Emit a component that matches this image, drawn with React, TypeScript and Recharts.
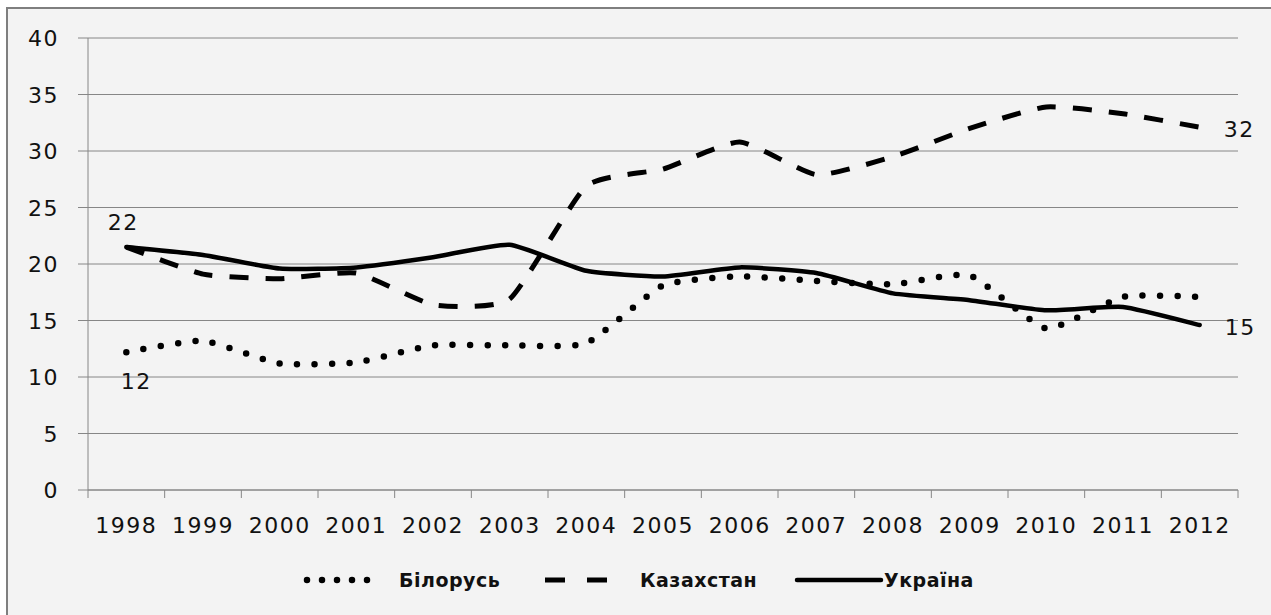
import { LineChart, Line, XAxis, YAxis, CartesianGrid, Legend, LabelList } from 'recharts';

const years = ['1998', '1999', '2000', '2001', '2002', '2003', '2004', '2005', '2006', '2007', '2008', '2009', '2010', '2011', '2012'];
const belarus = [12.2, 13.2, 11.2, 11.3, 12.8, 12.8, 13.0, 18.1, 18.9, 18.5, 18.2, 19.0, 14.3, 17.1, 17.1];
const kazakhstan = [21.5, 19.1, 18.7, 19.2, 16.4, 16.9, 26.9, 28.4, 30.8, 27.9, 29.5, 32.0, 33.9, 33.3, 32.1];
const ukraine = [21.5, 20.8, 19.6, 19.7, 20.6, 21.7, 19.4, 18.9, 19.7, 19.2, 17.4, 16.8, 15.9, 16.2, 14.6];
const yTicks = [0, 5, 10, 15, 20, 25, 30, 35, 40];

const data = years.map((year, i) => ({
  year,
  belarus: belarus[i],
  kazakhstan: kazakhstan[i],
  ukraine: ukraine[i],
}));

const W = 1271;
const H = 615;
const PLOT_LEFT = 88;
const PLOT_RIGHT = 1238;
const PLOT_BOTTOM = 490;
const HALF = (PLOT_RIGHT - PLOT_LEFT) / years.length / 2;

const FONT = '"DejaVu Sans", Verdana, sans-serif';
const INK = '#111';
const GREY = '#868686';

type LabelSpec = { dx: number; dy: number; anchor: 'start' | 'middle' | 'end' };

// light Excel-like smoothing: Catmull-Rom with shortened tangents
const SMOOTH = 1 / 12;
function smoothCurve(context: any) {
  let pts: [number, number][] = [];
  return {
    areaStart() {},
    areaEnd() {},
    lineStart() {
      pts = [];
    },
    lineEnd() {
      if (!pts.length) return;
      context.moveTo(pts[0][0], pts[0][1]);
      for (let i = 0; i < pts.length - 1; i++) {
        const p0 = pts[Math.max(i - 1, 0)];
        const p1 = pts[i];
        const p2 = pts[i + 1];
        const p3 = pts[Math.min(i + 2, pts.length - 1)];
        context.bezierCurveTo(
          p1[0] + (p2[0] - p0[0]) * SMOOTH, p1[1] + (p2[1] - p0[1]) * SMOOTH,
          p2[0] - (p3[0] - p1[0]) * SMOOTH, p2[1] - (p3[1] - p1[1]) * SMOOTH,
          p2[0], p2[1],
        );
      }
    },
    point(x: number, y: number) {
      pts.push([x, y]);
    },
  };
}

const series = [
  {
    key: 'belarus', name: 'Білорусь', dash: '0 17.5', width: 6.5, cap: 'round' as const,
    legendDash: '0 15', labels: { 0: { dx: 10, dy: 37, anchor: 'middle' } } as Record<number, LabelSpec>,
  },
  {
    key: 'kazakhstan', name: 'Казахстан', dash: '19 17', width: 5, cap: 'butt' as const,
    legendDash: '20 22', labels: { 14: { dx: 24, dy: 10, anchor: 'start' } } as Record<number, LabelSpec>,
  },
  {
    key: 'ukraine', name: 'Україна', dash: undefined, width: 4.5, cap: 'round' as const,
    legendDash: undefined,
    labels: {
      0: { dx: -3, dy: -17, anchor: 'middle' },
      14: { dx: 25, dy: 10, anchor: 'start' },
    } as Record<number, LabelSpec>,
  },
];

const legendItems = [
  { x1: 307, x2: 382, tx: 399 },
  { x1: 545, x2: 612, tx: 640 },
  { x1: 797, x2: 881, tx: 884 },
];

function XTick({ x, payload, index }: any) {
  const last = index === years.length - 1;
  return (
    <g>
      <line x1={x - HALF} x2={x - HALF} y1={PLOT_BOTTOM} y2={PLOT_BOTTOM + 8} stroke={GREY} />
      {last && <line x1={x + HALF} x2={x + HALF} y1={PLOT_BOTTOM} y2={PLOT_BOTTOM + 8} stroke={GREY} />}
      <text
        x={x}
        y={PLOT_BOTTOM + 43}
        textAnchor="middle"
        fill={INK}
        fontSize={22}
        fontFamily={FONT}
        style={{ letterSpacing: 1.5 }}
      >
        {payload.value}
      </text>
    </g>
  );
}

function YTick({ y, payload }: any) {
  return (
    <text
      x={PLOT_LEFT - 29}
      y={y + 8}
      textAnchor="end"
      fill={INK}
      fontSize={22}
      fontFamily={FONT}
      style={{ letterSpacing: 1.5 }}
    >
      {payload.value}
    </text>
  );
}

function makeLabel(specs: Record<number, LabelSpec>) {
  return (props: any) => {
    const spec = specs[props.index];
    if (!spec) return null;
    return (
      <text
        x={props.x + spec.dx}
        y={props.y + spec.dy}
        textAnchor={spec.anchor}
        fill={INK}
        fontSize={22}
        fontFamily={FONT}
        style={{ letterSpacing: 1.5 }}
      >
        {Math.round(props.value)}
      </text>
    );
  };
}

function LegendContent() {
  return (
    <svg width={W} height={40} style={{ display: 'block' }}>
      {series.map((s, i) => {
        const pos = legendItems[i];
        return (
          <g key={s.key}>
            <line
              x1={pos.x1}
              x2={pos.x2}
              y1={20}
              y2={20}
              stroke="#000"
              strokeWidth={s.width}
              strokeDasharray={s.legendDash}
              strokeLinecap={s.cap}
            />
            <text
              x={pos.tx}
              y={27}
              fill={INK}
              fontSize={19}
              fontWeight="bold"
              fontFamily={FONT}
              style={{ letterSpacing: 0.5 }}
            >
              {s.name}
            </text>
          </g>
        );
      })}
    </svg>
  );
}

export default function App() {
  return (
    <div style={{ position: 'absolute', left: 0, top: 0, width: W, height: H, background: '#fff', overflow: 'hidden' }}>
      <div
        style={{
          position: 'absolute',
          left: 6,
          top: 7,
          right: 0,
          bottom: 0,
          background: '#f3f3f3',
          borderLeft: '2px solid #7f7f7f',
          borderTop: '2px solid #7f7f7f',
        }}
      />
      <div style={{ position: 'absolute', left: 0, top: 0 }}>
        <LineChart width={W} height={H} data={data} margin={{ top: 38, right: 33, left: 0, bottom: 15 }}>
          <CartesianGrid vertical={false} stroke={GREY} />
          <XAxis
            dataKey="year"
            height={70}
            padding={{ left: HALF, right: HALF }}
            axisLine={{ stroke: GREY }}
            tickLine={false}
            tick={<XTick />}
            interval={0}
          />
          <YAxis
            width={88}
            domain={[0, 40]}
            ticks={yTicks}
            interval={0}
            axisLine={{ stroke: GREY }}
            tickLine={{ stroke: GREY }}
            tickSize={10}
            tick={<YTick />}
          />
          <Legend
            verticalAlign="bottom"
            wrapperStyle={{ left: 0, bottom: 15, width: W, height: 40 }}
            content={<LegendContent />}
          />
          {series.map((s) => (
            <Line
              key={s.key}
              dataKey={s.key}
              name={s.name}
              type={smoothCurve as any}
              stroke="#000"
              strokeWidth={s.width}
              strokeDasharray={s.dash}
              strokeLinecap={s.cap}
              dot={false}
              activeDot={false}
              isAnimationActive={false}
            >
              <LabelList dataKey={s.key} content={makeLabel(s.labels)} />
            </Line>
          ))}
        </LineChart>
      </div>
    </div>
  );
}
